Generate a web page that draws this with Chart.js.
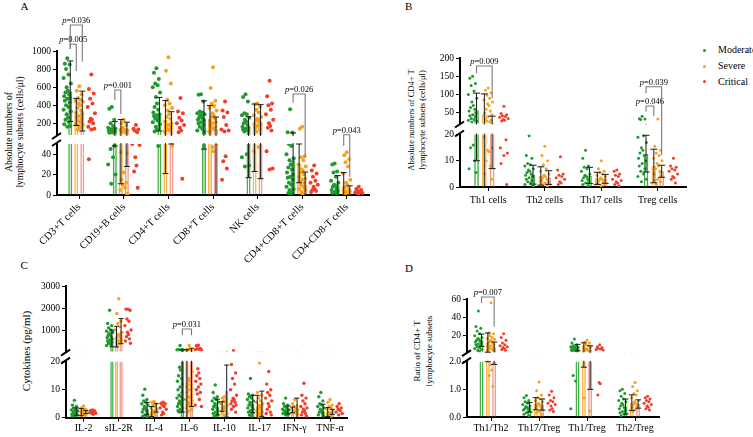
<!DOCTYPE html>
<html><head><meta charset="utf-8">
<script src="https://cdn.jsdelivr.net/npm/chart.js@4.4.0/dist/chart.umd.min.js"></script>
<style>
html,body{margin:0;padding:0;background:#fff;}
body{width:753px;height:437px;position:relative;overflow:hidden;font-family:'Liberation Serif','Times New Roman',serif;color:#000;}
.t{position:absolute;white-space:nowrap;line-height:11px;}
.yt{position:absolute;white-space:nowrap;text-align:center;transform:translate(-50%,-50%) rotate(-90deg);}
.lg{position:absolute;white-space:nowrap;font-size:10px;line-height:12px;}
.dot{position:absolute;width:3px;height:3px;border-radius:50%;}
</style></head><body>
<div class="t" style="left:20.5px;top:1px;font-size:11px">A</div>
<div class="t" style="left:405px;top:1px;font-size:11px">B</div>
<div class="t" style="left:20.5px;top:260px;font-size:11px">C</div>
<div class="t" style="left:405px;top:262.5px;font-size:11px">D</div>
<div class="yt" style="left:14.5px;top:132px;font-size:9.5px;line-height:11px">Absolute numbers of<br>lymphocyte subsets (cells/μl)</div>
<div class="yt" style="left:417px;top:120px;font-size:8.5px;line-height:10.6px">Absolute numbers of CD4+ T<br>lymphocyte subsets (cells/μl)</div>
<div class="yt" style="left:26px;top:351px;font-size:11px;line-height:12px">Cytokines (pg/ml)</div>
<div class="yt" style="left:423px;top:351px;font-size:9px;line-height:12px">Ratio of CD4+ T<br>lymphocyte subsets</div>
<div class="dot" style="left:702.5px;top:48.5px;background:#1f9a2e"></div>
<div class="lg" style="left:718px;top:44px">Moderate</div>
<div class="dot" style="left:702.5px;top:64.5px;background:#f6a21e"></div>
<div class="lg" style="left:718px;top:60px">Severe</div>
<div class="dot" style="left:702.5px;top:80.2px;background:#ef3e2c"></div>
<div class="lg" style="left:718px;top:75.7px">Critical</div>
<script>
// ---------------- DATA ----------------
const groupNames = ['Moderate', 'Severe', 'Critical'];

// Panel A
const catsA = ['CD3+T cells','CD19+B cells','CD4+T cells','CD8+T cells','NK cells','CD4+CD8+T cells','CD4-CD8-T cells'];
const meanA_mod = [555, 133, 300, 247, 145, 34, 9.5];
const sdA_mod   = [335, 85, 186, 202, 128, 59, 9.5];
const meanA_sev = [325, 126, 236, 225, 218, 31, 8.5];
const sdA_sev   = [150, 115, 215, 172, 195, 19, 13.5];
const meanA_cri = [335, 120, 189, 134, 211, 10.5, 4.6];
const sdA_cri   = [221, 92, 139, 135, 195, 12, 4.4];
const dotsA_mod = [
  [920, 860, 850, 800, 740, 700, 640, 600, 560, 540, 520, 500, 480, 470, 450, 430, 400, 380, 350, 330, 300, 260, 240, 210, 190, 170, 160],
  [380, 360, 240, 200, 170, 150, 140, 135, 130, 125, 120, 115, 110, 100, 95, 48, 45, 37, 30, 20, 11],
  [810, 760, 690, 640, 620, 600, 540, 490, 420, 380, 350, 320, 300, 290, 280, 260, 250, 230, 210, 190, 160, 130, 110, 48],
  [520, 515, 440, 330, 320, 310, 300, 290, 280, 260, 250, 240, 230, 210, 200, 180, 160, 140, 120, 105],
  [520, 490, 440, 310, 300, 290, 260, 240, 220, 200, 180, 160, 150, 140, 130, 120, 110, 40, 37, 29, 28],
  [355, 100, 98, 50, 48, 40, 36, 34, 30, 27, 25, 22, 20, 18, 17, 15, 12, 10, 8, 6, 5, 3, 2, 1],
  [31, 30, 23, 22, 18, 14, 12, 10, 9, 8, 6, 5, 4, 3, 2, 1]
];
const dotsA_sev = [
  [610, 560, 520, 480, 460, 450, 440, 420, 400, 370, 340, 320, 300, 280, 270, 250, 230, 210, 190, 180, 170, 150, 130],
  [240, 200, 180, 150, 130, 125, 120, 115, 110, 105, 100, 42, 41, 22, 15, 12, 10, 7, 5, 1],
  [930, 780, 640, 460, 420, 400, 370, 340, 300, 270, 250, 220, 200, 180, 160, 150, 130, 120, 110, 48],
  [820, 590, 450, 420, 390, 370, 340, 310, 290, 270, 250, 230, 210, 200, 180, 160, 150, 130, 110, 50, 47, 43],
  [420, 410, 380, 350, 320, 290, 270, 250, 240, 230, 210, 190, 180, 170, 150, 130, 110, 47, 43],
  [160, 140, 38, 37, 34, 30, 28, 25, 24, 22, 20, 18, 16, 15, 13, 12, 10, 8, 6, 5, 3, 1],
  [42, 39, 35, 32, 28, 21, 15, 12, 10, 8, 6, 5, 4, 3, 2, 1, 0.5]
];
const dotsA_cri = [
  [740, 580, 530, 470, 420, 380, 310, 250, 240, 220, 200, 160, 140, 130, 35],
  [180, 140, 130, 120, 100, 50, 49, 37, 29, 23, 7],
  [480, 330, 310, 260, 230, 200, 180, 150, 120, 100, 16],
  [440, 340, 320, 270, 180, 130, 120, 110, 38, 33, 26, 15],
  [670, 500, 420, 400, 350, 300, 240, 200, 170, 150, 120, 43, 26, 25],
  [29, 24, 21, 18, 14, 12, 10, 8, 6, 5, 4, 3],
  [8, 6, 5, 4, 3, 2.5, 2, 1.5]
];
const ticksA_top = [200, 400, 600, 800, 1000];
const ticksA_bot = [0, 10, 20, 30, 40, 50];
const bracketsA = [
  {cat:0, g1:0, g2:2, top:1288, e1:1022, e2:882, p:'0.036'},
  {cat:0, g1:0, g2:1, top:1074, e1:1022, e2:779, p:'0.005'},
  {cat:1, g1:0, g2:1, top:568, e1:457, e2:302, p:'0.001'},
  {cat:5, g1:0, g2:2, top:524, e1:428, e2:37, p:'0.026'},
  {cat:6, g1:1, g2:2, top:72, e1:48, e2:18, p:'0.043'}
];

// Panel B
const catsB = ['Th1 cells','Th2 cells','Th17 cells','Treg cells'];
const meanB_mod = [57, 4.7, 4.4, 12.7];
const sdB_mod   = [47, 3.6, 3.1, 7];
const meanB_sev = [46, 4.2, 3.3, 8];
const sdB_sev   = [56, 3.5, 2.3, 6.4];
const meanB_cri = [24, 3.6, 3.1, 6];
const sdB_cri   = [17, 2.6, 1.7, 2.3];
const dotsB_mod = [
  [150, 145, 130, 125, 110, 100, 90, 80, 70, 65, 60, 55, 50, 45, 42, 40, 35, 32, 30, 28, 25, 16, 15, 10, 7, 5.5],
  [19.5, 12, 11, 9, 8.5, 8, 7, 6.5, 6, 5.5, 5, 4.5, 4, 3.5, 3, 2.5, 2, 1.5, 1, 0.5],
  [14, 11, 8, 7.5, 7, 6, 5, 4.5, 4, 3.5, 3, 2.5, 2, 1.5, 1, 0.5],
  [41, 34, 33, 32, 19.5, 19, 17, 15, 14, 13, 12, 11, 10, 9, 8, 7, 6, 5, 4, 3, 2]
];
const dotsB_sev = [
  [118, 112, 105, 98, 90, 85, 80, 75, 70, 60, 55, 50, 45, 40, 35, 30, 28, 25, 19, 15, 14, 13.5, 10, 8, 5, 3],
  [15.5, 12, 10, 8.5, 7, 6, 5, 4.5, 4, 3.5, 3, 2.5, 2, 1.5, 1, 0.5],
  [10, 7, 6, 5.5, 5, 4.5, 4, 3.5, 3, 2.5, 2, 1.5, 1, 0.5],
  [33, 15.5, 14, 13, 12, 11, 10, 9, 8, 7, 6, 5, 4, 3, 2.5, 2, 1]
];
const dotsB_cri = [
  [68, 48, 45, 42, 40, 38, 35, 32, 30, 28, 18, 15, 13, 12, 9, 1],
  [11.5, 6.5, 5, 4.5, 4, 3.5, 3, 2, 1.5, 1],
  [6.5, 6, 5, 4.5, 4, 3, 2.5, 2, 1.5, 1, 0.5],
  [11, 8, 7.5, 7, 6.5, 6, 5, 4, 3.5, 3, 1.5]
];
const ticksB_top = [50, 100, 150, 200];
const ticksB_bot = [0, 5, 10, 15, 20];
const bracketsB = [
  {cat:0, g1:0, g2:2, top:178, e1:158, e2:90, p:'0.009'},
  {cat:3, g1:0, g2:1, top:69, e1:53, e2:41.5, p:'0.046'},
  {cat:3, g1:0, g2:2, top:121.6, e1:103.5, e2:12.2, p:'0.039'}
];

// Panel C
const catsC = ['IL-2','sIL-2R','IL-4','IL-6','IL-10','IL-17','IFN-γ','TNF-α'];
const meanC_mod = [2.2, 620, 3.2, 50, 3.8, 4.9, 2.8, 2.3];
const sdC_mod   = [1.3, 380, 2.2, 48, 2.8, 3.1, 1.4, 2.5];
const meanC_sev = [2.0, 700, 2.2, 55, 4.0, 3.9, 2.8, 2.0];
const sdC_sev   = [1.3, 470, 1.8, 55, 1.7, 4.1, 1.0, 1.6];
const meanC_cri = [2.0, 950, 3.5, 90, 9.5, 5.0, 3.4, 2.1];
const sdC_cri   = [0.6, 570, 1.5, 86, 9.3, 4.5, 3.6, 0.9];
const dotsC_mod = [
  [6.2, 4.5, 4, 3.5, 3, 2.8, 2.5, 2.2, 2, 1.8, 1.5, 1.2, 1, 0.8, 0.5],
  [1900, 1300, 1200, 1100, 1000, 950, 900, 850, 800, 750, 700, 650, 600, 550, 500, 450, 400, 350, 300],
  [10.2, 8, 6.5, 6, 5.5, 5, 4.5, 4, 3.5, 3, 2.5, 2, 1.5, 1, 0.5, 0.2],
  [300, 110, 105, 100, 100, 95, 90, 18, 17, 15, 14, 13, 12, 11, 10, 9, 8, 7.5, 7, 6.5, 6, 5.5, 5, 4.5, 4, 3.5, 3, 2.5, 2.2, 2],
  [11.7, 9, 7.5, 7, 6.5, 6, 5.5, 5, 4.5, 4, 3.5, 3, 2.5, 2, 1.5, 1, 0.5],
  [14, 8.5, 8, 7.5, 7, 6.5, 6, 5.5, 5, 4.5, 4, 3.5, 3, 2.5, 2, 1.5, 1, 0.5],
  [7, 5, 4.5, 4, 3.5, 3, 2.8, 2.5, 2.2, 2, 1.8, 1.5, 1.2, 1],
  [9, 7.5, 6, 5, 4.5, 4, 3.5, 3, 2.5, 2, 1.5, 1, 0.5]
];
const dotsC_sev = [
  [4.2, 3.5, 3, 2.8, 2.5, 2.2, 2, 1.8, 1.5, 1.2, 1, 0.8],
  [2420, 1750, 1400, 1300, 1150, 1000, 900, 800, 750, 700, 650, 600, 550, 500, 450, 400, 350],
  [5.8, 5.5, 5, 4.5, 4, 3.5, 3, 2.5, 2, 1.5, 1, 0.5],
  [300, 110, 105, 100, 100, 95, 16.5, 14, 13, 12, 11.5, 11, 10.5, 10, 9, 8, 7.5, 7, 6.5, 6, 5.5, 5, 4.5, 4, 3.5, 3, 2.5, 2],
  [7.5, 7, 6.5, 6, 5.5, 5, 4.5, 4, 3.5, 3, 2.5, 2, 1.5, 1],
  [19.5, 9, 8, 7, 6, 5.5, 5, 4.5, 4, 3.5, 3, 2.5, 2, 1.5, 1, 0.5, 0.2],
  [6.5, 5, 4.2, 4, 3.5, 3, 2.8, 2.5, 2.2, 2, 1.8, 1.5, 1.2],
  [6.5, 5.5, 4.5, 4, 3.5, 3, 2.5, 2, 1.5, 1, 0.5]
];
const dotsC_cri = [
  [2.8, 2.6, 2.4, 2.2, 2, 1.8, 1.6, 1.4, 1.2],
  [1950, 1950, 1900, 1500, 1400, 1200, 1000, 900, 800, 700, 600, 500, 400],
  [5.5, 5.2, 5, 4.5, 4, 3.5, 3, 2, 1.5, 1],
  [310, 290, 160, 150, 130, 110, 100, 17.5, 16, 15, 14, 13, 12, 11, 10, 9, 8.5, 6.5, 4.5, 4],
  [59, 19, 16, 14, 12, 10, 8, 7, 6.5, 6, 5.5, 5, 4.5, 4, 3, 2],
  [16.5, 12, 10, 9, 8, 7, 6, 5, 4, 3, 2, 1.5, 1],
  [12.3, 8, 7, 6, 5, 4, 3.5, 3, 2.5, 2, 1.5, 1, 0.5],
  [5, 4, 3.5, 3, 2.5, 2, 1.5, 1]
];
const ticksC_top = [1000, 2000, 3000];
const ticksC_bot = [0, 5, 10, 15, 20];
const bracketsC = [{cat:3, g1:0, g2:2, top:1045, e1:760, e2:760, p:'0.031'}];

// Panel D
const catsD = ['Th1/Th2','Th17/Treg','Th1/Treg','Th2/Treg'];
const meanD_mod = [15, 0.35, 7, 0.38];
const sdD_mod   = [6.7, 0.17, 3.5, 0.27];
const meanD_sev = [12.5, 0.48, 7, 0.52];
const sdD_sev   = [10.5, 0.22, 5.2, 0.28];
const meanD_cri = [7.5, 0.45, 5, 0.47];
const sdD_cri   = [5.6, 0.2, 4, 0.15];
const dotsD_mod = [
  [47, 30, 28, 25, 22, 20, 18, 17, 16, 15, 14, 13, 12, 11, 10, 9, 8, 7, 6, 5, 4, 3],
  [0.78, 0.7, 0.6, 0.55, 0.5, 0.45, 0.4, 0.38, 0.35, 0.3, 0.28, 0.25, 0.2, 0.15, 0.1, 0.05],
  [16.5, 12, 10, 9, 8.5, 8, 7.5, 7, 6.5, 6, 5.5, 5, 4.5, 4, 3.5, 3, 1.5, 1.3, 0.3],
  [1.0, 0.95, 0.85, 0.75, 0.65, 0.6, 0.55, 0.5, 0.45, 0.4, 0.35, 0.3, 0.25, 0.2, 0.15, 0.1, 0.05]
];
const dotsD_sev = [
  [56, 23, 22, 20, 18, 17, 16, 15, 14, 13, 12, 11, 10, 9, 8, 7, 6, 5, 4, 3, 1.9, 1.7, 1.5, 1.1],
  [1.27, 0.95, 0.8, 0.7, 0.65, 0.6, 0.55, 0.5, 0.45, 0.4, 0.35, 0.3, 0.25, 0.2, 0.15, 0.1],
  [15, 13, 12, 10, 9, 8, 7, 6, 5, 4, 3, 0.7, 0.22],
  [1.25, 1.1, 0.95, 0.85, 0.8, 0.7, 0.6, 0.55, 0.5, 0.45, 0.4, 0.35, 0.3, 0.25, 0.2]
];
const dotsD_cri = [
  [22, 18, 15, 12, 10, 9, 8, 7, 6, 5, 4],
  [0.93, 0.8, 0.7, 0.6, 0.55, 0.5, 0.45, 0.4, 0.3, 0.25, 0.2],
  [10, 8, 7, 6, 5.5, 5, 4.5, 1.25, 1.2, 0.8],
  [0.75, 0.7, 0.65, 0.6, 0.55, 0.5, 0.45, 0.4, 0.35, 0.3, 0.25]
];
const ticksD_top = [20, 40, 60];
const ticksD_bot = [0, 0.5, 1, 1.5, 2];
const bracketsD = [{cat:0, g1:0, g2:2, top:62.2, e1:55.6, e2:29.8, p:'0.007'}];

// ---------------- DRAWING ----------------
const FONT = "'Liberation Serif','Times New Roman',serif";
Chart.defaults.font.family = FONT;
Chart.defaults.color = '#000';
const DOT = ['#1f9a2e', '#f6a21e', '#ef3e2c'];
const BAR = ['#45b04a', '#fbb448', '#f59a90'];
const JIT = [0, -0.6, 0.6, -0.3, 0.3, -0.9, 0.9, -0.15, 0.15, -0.45, 0.45, -0.75, 0.75];

function line(ctx, x1, y1, x2, y2) { ctx.beginPath(); ctx.moveTo(x1, y1); ctx.lineTo(x2, y2); ctx.stroke(); }

function buildPanel(P) {
  const n = P.cats.length;
  let topChart = null;
  const make = (isTop) => {
    const seg = isTop ? P.top : P.bot;
    const cv = document.createElement('canvas');
    cv.width = P.box.w; cv.height = P.box.h;
    cv.style.cssText = 'position:absolute;left:' + P.box.left + 'px;top:' + P.box.top + 'px;width:' + P.box.w + 'px;height:' + P.box.h + 'px;';
    document.body.appendChild(cv);
    const ds = [];
    P.groups.forEach((g, gi) => {
      const pts = [];
      g.dots.forEach((arr, ci) => {
        arr.slice().sort((a, b) => b - a).forEach((v, k) => {
          if ((v >= P.top.min) !== isTop) return;
          pts.push({x: ci + (gi - 1) * P.catPct / 3 + JIT[k % JIT.length] * P.catPct * P.barPct / 6, y: v});
        });
      });
      ds.push({type: 'scatter', label: groupNames[gi], xAxisID: 'xl', yAxisID: 'y', data: pts,
        pointRadius: P.r, pointHoverRadius: P.r, pointBackgroundColor: DOT[gi], pointBorderWidth: 0, order: 1});
    });
    P.groups.forEach((g, gi) => {
      ds.push({type: 'bar', label: groupNames[gi], xAxisID: 'x', yAxisID: 'y', data: g.mean,
        backgroundColor: 'rgba(255,255,255,0)', borderColor: BAR[gi], borderWidth: 1.5,
        borderSkipped: 'start', clip: 0, order: 2, categoryPercentage: P.catPct, barPercentage: P.barPct});
    });

    function drawBrackets(chart) {
      const ctx = chart.ctx;
      const yT = topChart.scales.y, yB = chart.scales.y;
      const px = v => (v >= yT.min ? yT.getPixelForValue(v) : yB.getPixelForValue(v));
      P.brackets.forEach(b => {
        const x1 = chart.getDatasetMeta(3 + b.g1).data[b.cat].x;
        const x2 = chart.getDatasetMeta(3 + b.g2).data[b.cat].x;
        const yt = px(b.top);
        ctx.save();
        ctx.strokeStyle = '#7a7a7a'; ctx.lineWidth = 1.1;
        ctx.beginPath(); ctx.moveTo(x1, px(b.e1)); ctx.lineTo(x1, yt); ctx.lineTo(x2, yt); ctx.lineTo(x2, px(b.e2)); ctx.stroke();
        ctx.fillStyle = '#000'; ctx.textBaseline = 'alphabetic';
        ctx.font = 'italic ' + P.pFont + 'px ' + FONT;
        const w1 = ctx.measureText('p').width;
        ctx.font = P.pFont + 'px ' + FONT;
        const rest = '=' + b.p;
        const w2 = ctx.measureText(rest).width;
        const sx = (x1 + x2) / 2 - (w1 + w2) / 2, ty = yt - 2;
        ctx.font = 'italic ' + P.pFont + 'px ' + FONT; ctx.fillText('p', sx, ty);
        ctx.font = P.pFont + 'px ' + FONT; ctx.fillText(rest, sx + w1, ty);
        ctx.restore();
      });
    }

    const plug = {
      id: 'custom',
      afterDatasetsDraw(chart) {
        const ctx = chart.ctx, a = chart.chartArea, y = chart.scales.y;
        ctx.save();
        ctx.beginPath(); ctx.rect(a.left - 10, a.top - 1, a.right - a.left + 20, a.bottom - a.top + 2); ctx.clip();
        ctx.strokeStyle = '#1a1a1a'; ctx.lineWidth = 1;
        P.groups.forEach((g, gi) => {
          const meta = chart.getDatasetMeta(3 + gi);
          g.mean.forEach((m, i) => {
            const x = meta.data[i].x;
            const loRaw = m - g.sd[i];
            const lo = Math.max(0, loRaw), hi = m + g.sd[i];
            line(ctx, x, y.getPixelForValue(lo), x, y.getPixelForValue(hi));
            const caps = loRaw > 0 ? [lo, hi] : [hi];
            caps.forEach(v => {
              if (v >= y.min && v <= y.max) { const yy = y.getPixelForValue(v); line(ctx, x - P.cap, yy, x + P.cap, yy); }
            });
          });
        });
        ctx.restore();
        ctx.save(); ctx.strokeStyle = '#000'; ctx.lineWidth = 2;
        const by = isTop ? a.bottom + 1 : a.top - 1;
        line(ctx, a.left - 5, by + 3, a.left + 4, by - 3);
        ctx.restore();
        if (!isTop) drawBrackets(chart);
      }
    };

    const chart = new Chart(cv, {
      type: 'bar',
      data: {labels: P.cats, datasets: ds},
      options: {
        responsive: false, animation: false, devicePixelRatio: 1, events: [],
        layout: {padding: {left: 0, right: P.box.w - P.W - P.plotW, top: seg.pt, bottom: seg.pb}},
        plugins: {legend: {display: false}, tooltip: {enabled: false}},
        scales: {
          x: {
            type: 'category', offset: true, display: !isTop,
            grid: {display: true, offset: false, drawOnChartArea: false, drawTicks: true, tickLength: 4, color: '#000', lineWidth: 1},
            border: {display: true, color: '#000', width: 2},
            ticks: {autoSkip: false, maxRotation: P.rot, minRotation: P.rot, padding: P.xPad, font: {size: P.xFont}, color: '#000'},
            afterFit: s => { if (!isTop) s.height = P.bot.H; }
          },
          xl: {type: 'linear', display: false, offset: false, grid: {offset: false}, bounds: 'data', grace: 0, min: -0.5, max: n - 0.5},
          y: {
            type: 'linear', position: 'left', min: seg.min, max: seg.max,
            afterFit: s => { s.width = P.W; },
            afterBuildTicks: s => { s.ticks = seg.ticks.map(v => ({value: v})); },
            ticks: {font: {size: P.yFont}, padding: 2, color: '#000', callback: seg.fmt || (v => String(v))},
            grid: {display: true, drawOnChartArea: false, drawTicks: true, tickLength: 4, color: '#000', lineWidth: 1},
            border: {display: true, color: '#000', width: 2}
          }
        }
      },
      plugins: [plug]
    });
    return chart;
  };
  topChart = make(true);
  make(false);
}

buildPanel({
  box: {left: 0, top: 0, w: 380, h: 275}, W: 57, plotW: 312,
  top: {pt: 51, pb: 140, min: 70, max: 1000, ticks: ticksA_top},
  bot: {pt: 144, pb: 4, H: 76, min: 0, max: 50, ticks: ticksA_bot},
  cats: catsA,
  groups: [{mean: meanA_mod, sd: sdA_mod, dots: dotsA_mod}, {mean: meanA_sev, sd: sdA_sev, dots: dotsA_sev}, {mean: meanA_cri, sd: sdA_cri, dots: dotsA_cri}],
  catPct: 0.81, barPct: 0.67, r: 2, rot: 45, xFont: 10.5, xPad: 2, yFont: 9.5, cap: 3, pFont: 8.5, brackets: bracketsA
});
buildPanel({
  box: {left: 380, top: 0, w: 373, h: 215}, W: 80, plotW: 226,
  top: {pt: 58, pb: 91.5, min: 21, max: 200, ticks: ticksB_top},
  bot: {pt: 134.5, pb: 4, H: 24, min: 0, max: 20, ticks: ticksB_bot},
  cats: catsB,
  groups: [{mean: meanB_mod, sd: sdB_mod, dots: dotsB_mod}, {mean: meanB_sev, sd: sdB_sev, dots: dotsB_sev}, {mean: meanB_cri, sd: sdB_cri, dots: dotsB_cri}],
  catPct: 0.83, barPct: 0.6, r: 1.5, rot: 0, xFont: 10, xPad: 3, yFont: 9.5, cap: 3.5, pFont: 8.5, brackets: bracketsB
});
buildPanel({
  box: {left: 0, top: 215, w: 380, h: 222}, W: 66, plotW: 281.6,
  top: {pt: 71, pb: 85.4, min: 20, max: 3000, ticks: ticksC_top},
  bot: {pt: 146.7, pb: 1.3, H: 18, min: 0, max: 20, ticks: ticksC_bot},
  cats: catsC,
  groups: [{mean: meanC_mod, sd: sdC_mod, dots: dotsC_mod}, {mean: meanC_sev, sd: sdC_sev, dots: dotsC_sev}, {mean: meanC_cri, sd: sdC_cri, dots: dotsC_cri}],
  catPct: 0.78, barPct: 0.74, r: 1.7, rot: 0, xFont: 10, xPad: 1, yFont: 9.5, cap: 2.5, pFont: 8.5, brackets: bracketsC
});
buildPanel({
  box: {left: 380, top: 215, w: 373, h: 222}, W: 87, plotW: 192,
  top: {pt: 84, pb: 84.8, min: 2, max: 60, ticks: ticksD_top},
  bot: {pt: 146.7, pb: 2, H: 18, min: 0, max: 2, ticks: ticksD_bot, fmt: v => v.toFixed(1)},
  cats: catsD,
  groups: [{mean: meanD_mod, sd: sdD_mod, dots: dotsD_mod}, {mean: meanD_sev, sd: sdD_sev, dots: dotsD_sev}, {mean: meanD_cri, sd: sdD_cri, dots: dotsD_cri}],
  catPct: 0.79, barPct: 0.63, r: 1.5, rot: 0, xFont: 10, xPad: 1, yFont: 9.5, cap: 3, pFont: 8.5, brackets: bracketsD
});
</script>
</body></html>
